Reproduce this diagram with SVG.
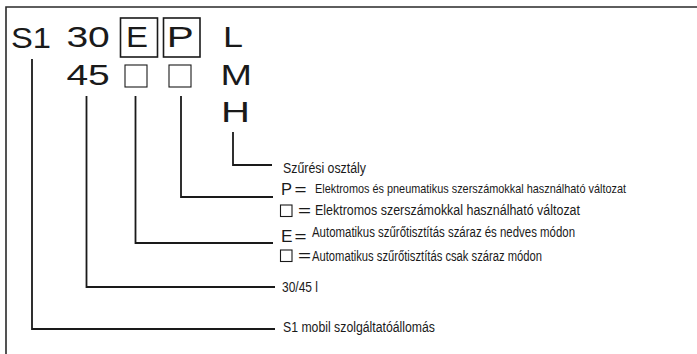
<svg xmlns="http://www.w3.org/2000/svg" width="697" height="354" viewBox="0 0 697 354">
<style>
text{font-family:"Liberation Sans",Arial,sans-serif;fill:#1a1a1a}
.big{font-size:30px}
.lbl{font-size:14px}
.sm{font-size:13px}
.sym{font-size:16px}
.box{fill:none;stroke:#1a1a1a;stroke-width:1.6}
.sq{fill:none;stroke:#1a1a1a;stroke-width:1.1}
.conn{fill:none;stroke:#1a1a1a;stroke-width:1.8}
.frame{fill:none;stroke:#2a2a2a;stroke-width:1.6}
</style>
<rect width="697" height="354" fill="#fff"/>
<path class="frame" d="M6 354 V7 H697"/>

<g id="code-s1"><text class="big" x="11" y="48" textLength="40" lengthAdjust="spacingAndGlyphs">S1</text></g>
<g id="code-30"><text class="big" x="66.4" y="47" textLength="43.4" lengthAdjust="spacingAndGlyphs">30</text></g>
<g id="code-45"><text class="big" x="66.4" y="85" textLength="43.4" lengthAdjust="spacingAndGlyphs">45</text></g>
<g id="code-e">
<rect class="box" x="120.5" y="18" width="37" height="39"/>
<text class="big" x="126" y="47" textLength="22" lengthAdjust="spacingAndGlyphs">E</text>
</g>
<g id="code-p">
<rect class="box" x="163.5" y="18" width="36.5" height="39"/>
<text class="big" x="166.7" y="47" textLength="27" lengthAdjust="spacingAndGlyphs">P</text>
</g>
<g id="code-e-empty"><rect class="sq" x="125" y="65" width="22" height="22"/></g>
<g id="code-p-empty"><rect class="sq" x="169" y="65" width="22" height="22"/></g>
<g id="code-l"><text class="big" x="223" y="47" textLength="20" lengthAdjust="spacingAndGlyphs">L</text></g>
<g id="code-m"><text class="big" x="220.5" y="85" textLength="31.5" lengthAdjust="spacingAndGlyphs">M</text></g>
<g id="code-h"><text class="big" x="221" y="122" textLength="29" lengthAdjust="spacingAndGlyphs">H</text></g>

<g id="connectors">
<path class="conn" d="M233 132 V165 H272"/>
<path class="conn" d="M181 96 V197 H273"/>
<path class="conn" d="M135.5 96 V243 H273"/>
<path class="conn" d="M86.5 96 V287 H275"/>
<path class="conn" d="M32 59 V329 H275"/>
</g>

<g id="label-filter"><text class="lbl" x="283" y="173" textLength="83" lengthAdjust="spacingAndGlyphs">Szűrési osztály</text></g>
<g id="label-p">
<text class="sym" x="281" y="195" textLength="11" lengthAdjust="spacingAndGlyphs">P</text>
<text class="sym" x="294.5" y="195" textLength="12" lengthAdjust="spacingAndGlyphs">=</text>
<text class="sm" x="315" y="193" textLength="311" lengthAdjust="spacingAndGlyphs">Elektromos és pneumatikus szerszámokkal használható változat</text>
</g>
<g id="label-p-empty">
<rect class="sq" x="280.5" y="205" width="11.5" height="11.5"/>
<text class="sym" x="298" y="216" textLength="13" lengthAdjust="spacingAndGlyphs">=</text>
<text class="lbl" x="315" y="215" textLength="265" lengthAdjust="spacingAndGlyphs">Elektromos szerszámokkal használható változat</text>
</g>
<g id="label-e">
<text class="sym" x="281" y="242" textLength="11.5" lengthAdjust="spacingAndGlyphs">E</text>
<text class="sym" x="294.5" y="242" textLength="12" lengthAdjust="spacingAndGlyphs">=</text>
<text class="lbl" x="312" y="237" textLength="263" lengthAdjust="spacingAndGlyphs">Automatikus szűrőtisztítás száraz és nedves módon</text>
</g>
<g id="label-e-empty">
<rect class="sq" x="280.5" y="250" width="11.5" height="11.5"/>
<text class="sym" x="298" y="261" textLength="13" lengthAdjust="spacingAndGlyphs">=</text>
<text class="lbl" x="312" y="261" textLength="230" lengthAdjust="spacingAndGlyphs">Automatikus szűrőtisztítás csak száraz módon</text>
</g>
<g id="label-volume"><text class="lbl" x="282" y="291.5" textLength="36" lengthAdjust="spacingAndGlyphs">30/45 l</text></g>
<g id="label-s1"><text class="lbl" x="283" y="331.5" textLength="152" lengthAdjust="spacingAndGlyphs">S1 mobil szolgáltatóállomás</text></g>
</svg>
